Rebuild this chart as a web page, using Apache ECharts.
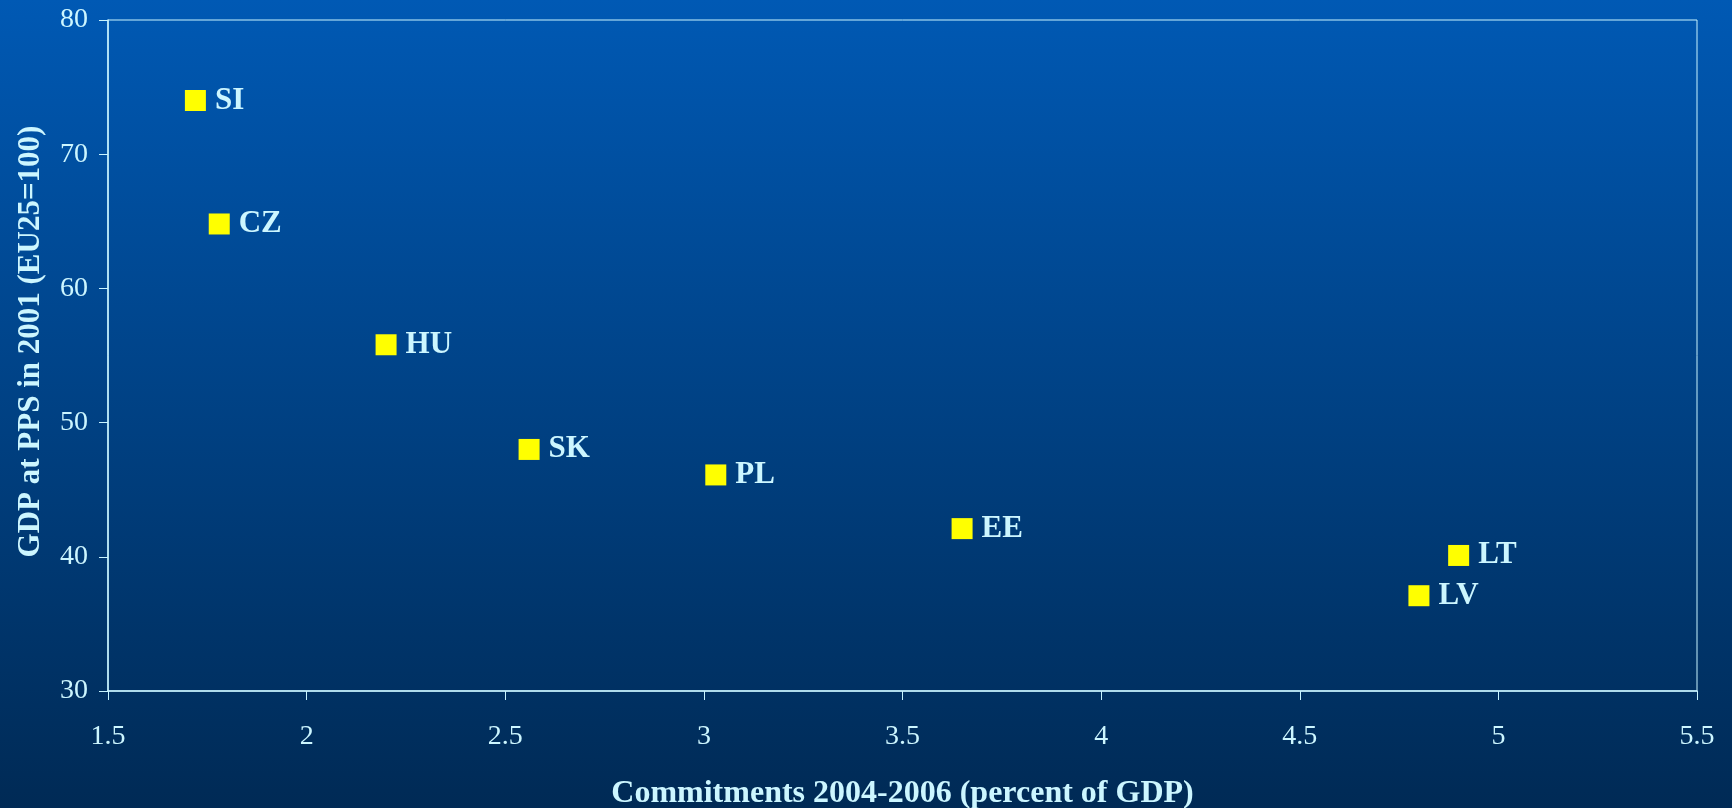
<!DOCTYPE html>
<html>
<head>
<meta charset="utf-8">
<script src="https://cdn.jsdelivr.net/npm/echarts@6/dist/echarts.min.js"></script>
<style>
  html, body { margin: 0; padding: 0; }
  #chart { width: 1732px; height: 808px; }
</style>
</head>
<body>
<div id="chart"></div>
<script>
// Country codes and their values
const countries = ['SI', 'CZ', 'HU', 'SK', 'PL', 'EE', 'LT', 'LV'];
// Commitments 2004-2006, percent of GDP
const commitments = [1.72, 1.78, 2.20, 2.56, 3.03, 3.65, 4.90, 4.80];
// GDP at PPS in 2001, EU25 = 100
const gdpPps = [74.0, 64.8, 55.8, 48.0, 46.1, 42.1, 40.1, 37.1];

const xTitle = 'Commitments 2004-2006 (percent of GDP)';
const yTitle = 'GDP at PPS in 2001 (EU25=100)';

const points = countries.map((c, i) => ({ name: c, value: [commitments[i], gdpPps[i]] }));

const lineColor = '#c8f4ff';
const textColor = '#ccf6ff';
const serif = '"Liberation Serif", "Times New Roman", serif';

const chart = echarts.init(document.getElementById('chart'), null, { renderer: 'canvas' });
chart.setOption({
  backgroundColor: new echarts.graphic.LinearGradient(0, 0, 0, 1, [
    { offset: 0, color: '#0059b4' },
    { offset: 1, color: '#002a55' }
  ]),
  animation: false,
  grid: {
    left: 108, right: 35, top: 20, bottom: 117,
    outerBoundsMode: 'none', containLabel: false,
    show: true, borderColor: lineColor, borderWidth: 1, backgroundColor: 'transparent'
  },
  xAxis: {
    type: 'value', min: 1.5, max: 5.5, interval: 0.5,
    axisLine: { show: true, lineStyle: { color: lineColor, width: 1.5 } },
    axisTick: { show: true, inside: false, length: 9, lineStyle: { color: lineColor } },
    splitLine: { show: false },
    axisLabel: { color: textColor, fontFamily: serif, fontSize: 28, margin: 32 },
    name: xTitle, nameLocation: 'middle', nameGap: 87,
    nameTextStyle: { color: textColor, fontFamily: serif, fontWeight: 'bold', fontSize: 32 }
  },
  yAxis: {
    type: 'value', min: 30, max: 80, interval: 10,
    axisLine: { show: true, lineStyle: { color: lineColor, width: 1.5 } },
    axisTick: { show: true, inside: false, length: 9, lineStyle: { color: lineColor } },
    splitLine: { show: false },
    axisLabel: { color: textColor, fontFamily: serif, fontSize: 28, margin: 20 },
    name: yTitle, nameLocation: 'middle', nameGap: 62, nameRotate: 90,
    nameTextStyle: { color: textColor, fontFamily: serif, fontWeight: 'bold', fontSize: 31, padding: [0, 0, 0, 28] }
  },
  series: [{
    type: 'scatter',
    data: points,
    symbol: 'rect',
    symbolSize: 21,
    itemStyle: { color: '#ffff00', opacity: 1 },
    label: {
      show: true, position: 'right', distance: 9,
      formatter: p => p.name,
      color: textColor, fontFamily: serif, fontWeight: 'bold', fontSize: 31
    }
  }]
});
</script>
</body>
</html>
